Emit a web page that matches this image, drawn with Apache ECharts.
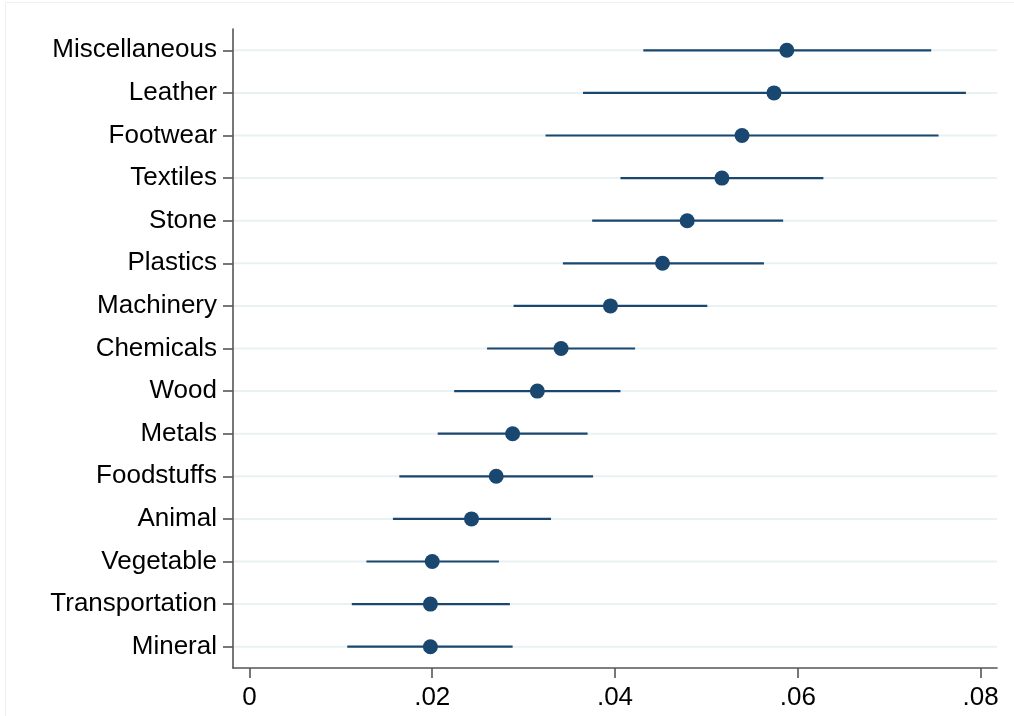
<!DOCTYPE html>
<html>
<head>
<meta charset="utf-8">
<script src="https://cdn.jsdelivr.net/npm/echarts@6/dist/echarts.min.js"></script>
<style>
html,body{margin:0;padding:0;background:#fff;}
#chart{width:1014px;height:716px;}
</style>
</head>
<body>
<div id="chart"></div>
<script>
// Categories, top to bottom
var categories = ['Miscellaneous','Leather','Footwear','Textiles','Stone','Plastics','Machinery','Chemicals','Wood','Metals','Foodstuffs','Animal','Vegetable','Transportation','Mineral'];
// Point estimates
var estimates = [0.0588,0.0574,0.0539,0.0517,0.0479,0.0452,0.0395,0.0341,0.0315,0.0288,0.0270,0.0243,0.0200,0.0198,0.0198];
// Lower bounds of confidence intervals
var lower = [0.0431,0.0365,0.0324,0.0406,0.0375,0.0343,0.0289,0.0260,0.0224,0.0206,0.0164,0.0157,0.0128,0.0112,0.0107];
// Upper bounds of confidence intervals
var upper = [0.0746,0.0784,0.0754,0.0628,0.0584,0.0563,0.0501,0.0422,0.0406,0.0370,0.0376,0.0330,0.0273,0.0285,0.0288];
// X tick values
var xTicks = [0,0.02,0.04,0.06,0.08];
var xMin = -0.0018, xMax = 0.0818;

var navy = '#1a476f';
var chart = echarts.init(document.getElementById('chart'));

var ciData = categories.map(function(c,i){ return [lower[i], upper[i], i]; });
var ptData = categories.map(function(c,i){ return [estimates[i], i]; });

function fmtTick(v){
  if (Math.abs(v) < 1e-12) return '0';
  var s = String(Math.round(v*100)/100);
  return s.replace(/^0\./,'.');
}

chart.setOption({
  animation: false,
  backgroundColor: '#ffffff',
  graphic: [{
    type: 'rect',
    shape: {x: 5.5, y: 2.5, width: 1010, height: 720},
    style: {fill: 'none', stroke: '#eef0f0', lineWidth: 1},
    silent: true, z: -10
  }],
  grid: {left: 233, right: 17, top: 29, bottom: 48, containLabel: false},
  xAxis: {
    type: 'value',
    min: xMin, max: xMax,
    axisLine: {show: true, onZero: false, lineStyle: {color: '#555555', width: 1.6}},
    axisTick: {show: true, length: 10, lineStyle: {color: '#555555', width: 1.6}, customValues: xTicks},
    axisLabel: {show: true, customValues: xTicks, formatter: fmtTick, color: '#000', fontSize: 26, fontFamily: 'Liberation Sans, Arial, sans-serif', margin: 17},
    splitLine: {show: false}
  },
  yAxis: {
    type: 'category',
    data: categories,
    inverse: true,
    boundaryGap: true,
    axisLine: {show: true, onZero: false, lineStyle: {color: '#555555', width: 1.6}},
    axisTick: {show: true, alignWithLabel: true, length: 10, lineStyle: {color: '#555555', width: 1.6}},
    axisLabel: {show: true, color: '#000', fontSize: 26, fontFamily: 'Liberation Sans, Arial, sans-serif', margin: 16},
    splitLine: {show: false}
  },
  series: [
    {
      type: 'custom',
      data: ciData,
      encode: {x: [0,1], y: 2},
      z: 2,
      renderItem: function(params, api){
        var idx = api.value(2);
        var a = api.coord([api.value(0), idx]);
        var b = api.coord([api.value(1), idx]);
        var cs = params.coordSys;
        return {
          type: 'group',
          children: [
            {type: 'line', shape: {x1: cs.x + 1, y1: a[1], x2: cs.x + cs.width, y2: a[1]}, style: {stroke: '#eaf1f3', lineWidth: 2}},
            {type: 'line', shape: {x1: a[0], y1: a[1], x2: b[0], y2: b[1]}, style: {stroke: navy, lineWidth: 2.2}}
          ]
        };
      }
    },
    {
      type: 'scatter',
      data: ptData,
      symbol: 'circle',
      symbolSize: 15,
      z: 3,
      itemStyle: {color: navy, opacity: 1}
    }
  ]
});
</script>
</body>
</html>
